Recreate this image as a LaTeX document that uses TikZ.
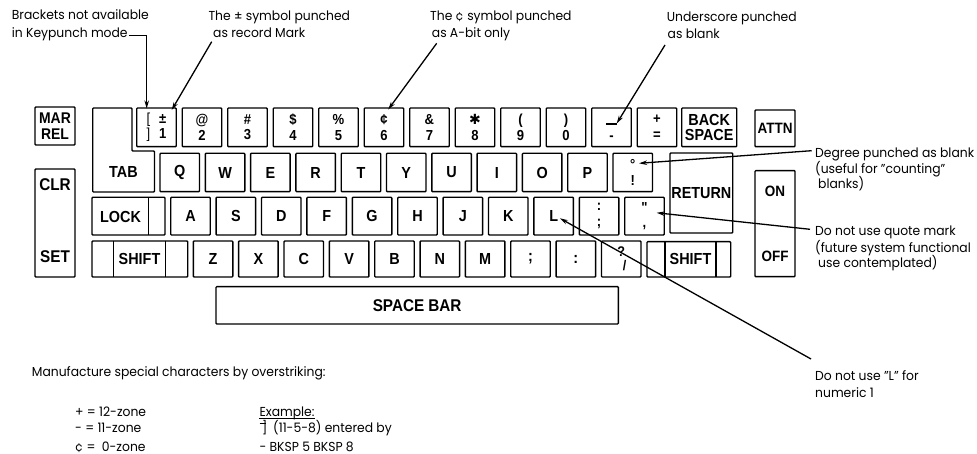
\documentclass[tikz,border=0pt]{standalone}
\usepackage{fontspec}
\setmainfont{Poppins}[FakeStretch=0.95]
\newfontfamily\keyfont{Liberation Sans}[FakeStretch=0.9]
\newfontfamily\symfont{DejaVu Sans}
\usetikzlibrary{arrows.meta,calc}
\begin{document}
\begin{tikzpicture}[x=1pt,y=-1pt,
  kb/.style={draw,line width=1.4pt,rounded corners=0.8pt,minimum width=39.5pt,minimum height=38.5pt,inner sep=0pt,outer sep=0pt,anchor=north west,align=center,font=\keyfont\bfseries\fontsize{16}{14.5}\selectfont},
  kb2/.style={kb,font=\keyfont\bfseries\fontsize{14.5}{15.5}\selectfont},
  ktext/.style={inner sep=0pt,font=\keyfont\bfseries\fontsize{16}{16}\selectfont},
  note/.style={anchor=base west,inner sep=0pt,font=\fontsize{13}{16}\selectfont},
  lead/.style={line width=1.3pt,-{Stealth[length=8pt,width=4.5pt]}},
  outl/.style={draw,line width=1.4pt,rounded corners=0.8pt},
  divl/.style={line width=1.4pt}]
\fill[white] (0,0) rectangle (977,454);
\useasboundingbox (0,0) rectangle (977,454);

% ---- top row
\node[kb,minimum width=40pt,minimum height=38pt,font=\keyfont\bfseries\fontsize{15.5}{16}\selectfont] (kmar) at (35,107) {MAR\\REL};
\draw[outl] (92.7,108) -- (132,108) -- (132,151) -- (154.5,151) -- (154.5,192) -- (92.7,192) -- cycle;
\node[ktext] (ttab) at (123.5,172) {TAB};
\node[kb2,minimum height=38.7pt] (k0) at (136.7,108) {{\mdseries[}\hspace{9pt}±\\{\mdseries]}\hspace{9pt}1};
\node[kb2,minimum height=38.7pt] (k1) at (182.2,108) {@\\2};
\node[kb2,minimum height=38.7pt] (k2) at (227.7,108) {\#\\3};
\node[kb2,minimum height=38.7pt] (k3) at (273.2,108) {\$\\4};
\node[kb2,minimum height=38.7pt] (k4) at (318.7,108) {\%\\5};
\node[kb2,minimum height=38.7pt] (k5) at (364.2,108) {¢\\6};
\node[kb2,minimum height=38.7pt] (k6) at (409.7,108) {\&\\7};
\node[kb2,minimum height=38.7pt] (k7) at (455.2,108) {{\symfont\mdseries\fontsize{14}{15.5}\selectfont ✱}\\8};
\node[kb2,minimum height=38.7pt] (k8) at (500.7,108) {(\\9};
\node[kb2,minimum height=38.7pt] (k9) at (546.2,108) {)\\0};
\node[kb2,minimum height=38.7pt] (k10) at (591.7,108) {\rule{0pt}{10.5pt}\rule{11pt}{1.8pt}\\-};
\node[kb2,minimum height=38.7pt] (k11) at (637.2,108) {+\\=};
\node[kb,minimum width=55pt,minimum height=38.7pt,font=\keyfont\bfseries\fontsize{16}{15}\selectfont] (kbs) at (681.7,108) {BACK\\SPACE};
\node[kb,minimum width=40pt,minimum height=36.7pt,font=\keyfont\bfseries\fontsize{15}{15}\selectfont] (katt) at (755,110) {ATTN};

% ---- TAB row
\node[kb,minimum height=38.4pt] (t0) at (160,153.3) {Q};
\node[kb,minimum height=38.4pt] (t1) at (205.3,153.3) {W};
\node[kb,minimum height=38.4pt] (t2) at (250.6,153.3) {E};
\node[kb,minimum height=38.4pt] (t3) at (295.9,153.3) {R};
\node[kb,minimum height=38.4pt] (t4) at (341.2,153.3) {T};
\node[kb,minimum height=38.4pt] (t5) at (386.5,153.3) {Y};
\node[kb,minimum height=38.4pt] (t6) at (431.8,153.3) {U};
\node[kb,minimum height=38.4pt] (t7) at (477.1,153.3) {I};
\node[kb,minimum height=38.4pt] (t8) at (522.4,153.3) {O};
\node[kb,minimum height=38.4pt] (t9) at (567.7,153.3) {P};
\node[kb2,minimum height=38.4pt] (t10) at (613,153.3) {°\\!};
\node[kb,minimum width=62.7pt,minimum height=80pt] (kret) at (670,153) {RETURN};

% ---- LOCK row
\node[kb,minimum width=40pt,minimum height=108pt] (kclr) at (35,169) {};
\node[ktext,font=\keyfont\bfseries\fontsize{17}{17}\selectfont] (tclr) at ($(kclr.north)+(0,16)$) {CLR};
\node[ktext,font=\keyfont\bfseries\fontsize{17}{17}\selectfont] (tset) at ($(kclr.north)+(0,88)$) {SET};
\node[kb,minimum width=73pt,minimum height=37.7pt] (klock) at (92,197.3) {};
\draw[divl] ([xshift=56.3pt]klock.north west) -- ([xshift=56.3pt]klock.south west);
\node[ktext] (tlock) at (120.5,216.5) {LOCK};
\node[kb,minimum height=37.7pt] (l0) at (170.7,197.3) {A};
\node[kb,minimum height=37.7pt] (l1) at (216.1,197.3) {S};
\node[kb,minimum height=37.7pt] (l2) at (261.5,197.3) {D};
\node[kb,minimum height=37.7pt] (l3) at (306.9,197.3) {F};
\node[kb,minimum height=37.7pt] (l4) at (352.3,197.3) {G};
\node[kb,minimum height=37.7pt] (l5) at (397.7,197.3) {H};
\node[kb,minimum height=37.7pt] (l6) at (443.1,197.3) {J};
\node[kb,minimum height=37.7pt] (l7) at (488.5,197.3) {K};
\node[kb,minimum height=37.7pt] (l8) at (533.9,197.3) {L};
\node[kb2,minimum height=37.7pt] (l9) at (579.3,197.3) {:\\;};
\node[kb2,minimum height=37.7pt] (l10) at (624.7,197.3) {"\\,};
\node[kb,minimum width=40pt,minimum height=106pt] (kon) at (755,170.7) {};
\node[ktext,font=\keyfont\bfseries\fontsize{15}{15}\selectfont] (ton) at ($(kon.north)+(0,21)$) {ON};
\node[ktext,font=\keyfont\bfseries\fontsize{15}{15}\selectfont] (toff) at ($(kon.north)+(0,86)$) {OFF};

% ---- SHIFT row
\node[kb,minimum width=95.7pt,minimum height=36pt] (klsh) at (92,241) {};
\draw[divl] ([xshift=21.3pt]klsh.north west) -- ([xshift=21.3pt]klsh.south west);
\draw[divl] ([xshift=73.7pt]klsh.north west) -- ([xshift=73.7pt]klsh.south west);
\node[ktext] (tlsh) at (139.5,259) {SHIFT};
\node[kb,minimum height=36pt] (s0) at (193.3,241) {Z};
\node[kb,minimum height=36pt] (s1) at (238.65,241) {X};
\node[kb,minimum height=36pt] (s2) at (284,241) {C};
\node[kb,minimum height=36pt] (s3) at (329.35,241) {V};
\node[kb,minimum height=36pt] (s4) at (374.7,241) {B};
\node[kb,minimum height=36pt] (s5) at (420.05,241) {N};
\node[kb,minimum height=36pt] (s6) at (465.4,241) {M};
\node[kb,minimum height=36pt] (s7) at (510.75,241) {;};
\node[kb,minimum height=36pt] (s8) at (556.1,241) {:};
\node[kb2,minimum height=36pt,font=\keyfont\bfseries\fontsize{14}{14}\selectfont] (s9) at (601.45,241) {?\\\hspace*{7pt}/};
\node[kb,minimum width=83.7pt,minimum height=35.3pt] (krsh) at (647,241.7) {};
\draw[divl] ([xshift=18pt]krsh.north west) -- ([xshift=18pt]krsh.south west);
\draw[divl] ([xshift=69pt]krsh.north west) -- ([xshift=69pt]krsh.south west);
\node[ktext] (trsh) at (690.5,259) {SHIFT};

% ---- space bar
\node[kb,minimum width=402.3pt,minimum height=37.3pt,font=\keyfont\bfseries\fontsize{17}{17}\selectfont] (kspace) at (216,286.7) {SPACE\hspace{4pt}BAR};

% ---- annotations
\node[note] (n1a) at (11.7,19.5) {Brackets not available};
\node[note] (n1b) at (11.7,37.5) {in Keypunch mode};
\node[note] (n2a) at (208.3,21) {The ± symbol punched};
\node[note] (n2b) at (213,37.5) {as record Mark};
\node[note] (n3a) at (430,21) {The ¢ symbol punched};
\node[note] (n3b) at (431.7,37.5) {as A-bit only};
\node[note] (n4a) at (666.7,22) {Underscore punched};
\node[note] (n4b) at (667.5,39) {as blank};
\node[note] (n5a) at (815,157.5) {Degree punched as blank};
\node[note] (n5b) at (815,174) {(useful for "counting"};
\node[note] (n5c) at (818,189) {blanks)};
\node[note] (n6a) at (815,236) {Do not use quote mark};
\node[note] (n6b) at (815,252.5) {(future system functional};
\node[note] (n6c) at (818,267.5) {use contemplated)};
\node[note] (n7a) at (815,380) {Do not use "L" for};
\node[note] (n7b) at (815,397) {numeric 1};

\coordinate (p1) at ($(k0.north west)+(10,0.5)$);
\coordinate (p2) at ($(k0.north west)+(35,2)$);
\coordinate (p3) at ($(k5.north west)+(24,1.5)$);
\coordinate (p4) at ($(k10.north west)+(25,15.5)$);
\coordinate (p5) at ($(t10.north west)+(26,10)$);
\coordinate (p6) at ($(l10.north west)+(32,15.5)$);
\coordinate (p7) at ($(l8.north west)+(26,21)$);
\coordinate (q2) at (211.7,41.7);
\coordinate (q3) at (436.7,43.3);
\coordinate (q4) at (665,45);
\coordinate (q5) at (811.7,150.7);
\coordinate (q6) at (810,229.3);
\coordinate (q7) at (811,359);

\draw[lead] ([xshift=1pt,yshift=2pt]n1b.base east) -| (p1);
\draw[lead] (q2) -- (p2);
\draw[lead] (q3) -- (p3);
\draw[lead] (q4) -- (p4);
\draw[lead] (q5) -- (p5);
\draw[lead] (q6) -- (p6);
\draw[lead] (q7) -- (p7);

% ---- bottom text
\node[note] (m0) at (31.7,376) {Manufacture special characters by overstriking:};
\node[note] (c1) at (75,416) {+ = 12-zone};
\node[note] (c2) at (75,432.5) {- = 11-zone};
\node[note] (c3) at (75,451) {¢ = \hspace{3pt}0-zone};
\node[note] (e1) at (259.3,416) {Example:};
\draw[line width=1pt] ([yshift=-2.5pt]e1.base west) -- ([yshift=-2.5pt]e1.base east);
\node[note] (e2) at (259.3,432.5) {\rlap{\rule[8.6pt]{6pt}{0.9pt}}\hspace{2.5pt}]\hspace{6pt}(11-5-8) entered by};
\node[note] (e3) at (259.3,451) {- BKSP 5 BKSP 8};
\end{tikzpicture}
\end{document}
